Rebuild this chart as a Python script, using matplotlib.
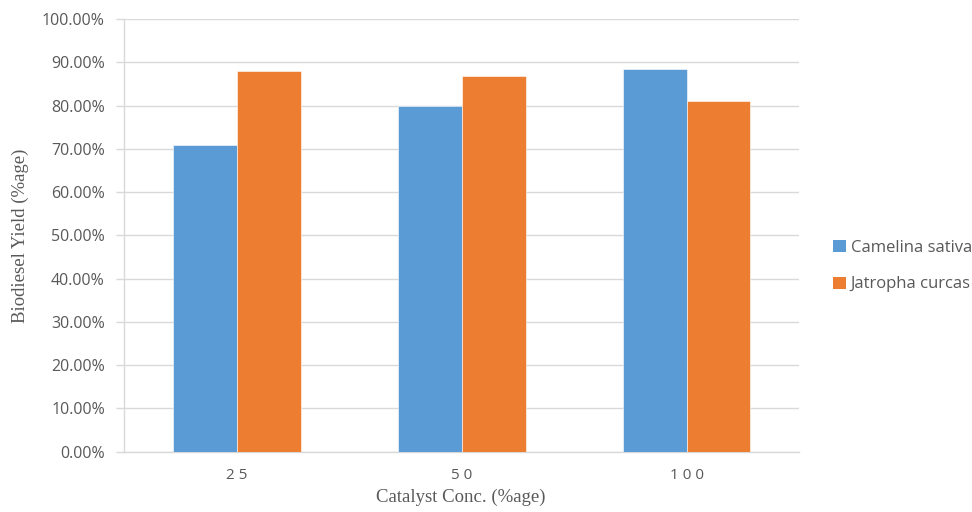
import matplotlib
matplotlib.use("Agg")
import matplotlib.pyplot as plt
from matplotlib.ticker import PercentFormatter, MultipleLocator
from matplotlib.patches import Patch
import numpy as np

categories = ["25", "50", "100"]
series_names = ["Camelina sativa", "Jatropha curcas"]
camelina = [70.8, 80.0, 88.5]
jatropha = [88.0, 86.9, 81.0]
colors = ["#5B9BD5", "#ED7D31"]

fig = plt.figure(figsize=(9.72, 5.12), dpi=100)
W, H = 972, 512
ax = fig.add_axes([124.3 / W, (H - 451.7) / H, (799 - 124.3) / W, (451.7 - 19.0) / H])

x = np.arange(len(categories))
w = 0.284
ax.bar(x - w / 2, camelina, w, color=colors[0], edgecolor="white", linewidth=0.4, zorder=3)
ax.bar(x + w / 2, jatropha, w, color=colors[1], edgecolor="white", linewidth=0.4, zorder=3)

ax.set_xlim(-0.5, 2.5)
ax.set_ylim(0, 100)
ax.yaxis.set_major_locator(MultipleLocator(10))
ax.yaxis.set_major_formatter(PercentFormatter(100, decimals=2))
ax.grid(axis="y", color="#d9d9d9", linewidth=1.0, zorder=0)
ax.set_axisbelow(True)

for s in ["top", "right"]:
    ax.spines[s].set_visible(False)
for s in ["left", "bottom"]:
    ax.spines[s].set_color("#d9d9d9")
    ax.spines[s].set_linewidth(1.0)

ax.set_xticks(x)
ax.set_xticklabels([" ".join(c) for c in categories])
ax.tick_params(axis="x", length=0, pad=12, labelsize=11, labelcolor="#595959")
ax.tick_params(axis="y", length=6, width=1.0, color="#d9d9d9", pad=8, labelsize=11.5, labelcolor="#595959")
for lab in ax.get_xticklabels() + ax.get_yticklabels():
    lab.set_family("Open Sans")

fig.text(461 / W, 1 - 497 / H, "Catalyst Conc. (%age)", family="Liberation Serif", fontsize=13.5,
         color="#595959", ha="center", va="center")
fig.text(20 / W, 1 - 236 / H, "Biodiesel Yield (%age)", family="Liberation Serif", fontsize=13.5,
         color="#595959", ha="center", va="center", rotation=90)

handles = [Patch(facecolor=c, edgecolor="none") for c in colors]
leg = fig.legend(handles, series_names, loc="center left", bbox_to_anchor=(818 / W, 1 - 266 / H),
                 frameon=False, prop={"family": "Open Sans", "size": 12},
                 handlelength=0.75, handleheight=0.75, handletextpad=0.3, labelspacing=1.25)
for t in leg.get_texts():
    t.set_color("#595959")

fig.savefig("out.png", dpi=100)
